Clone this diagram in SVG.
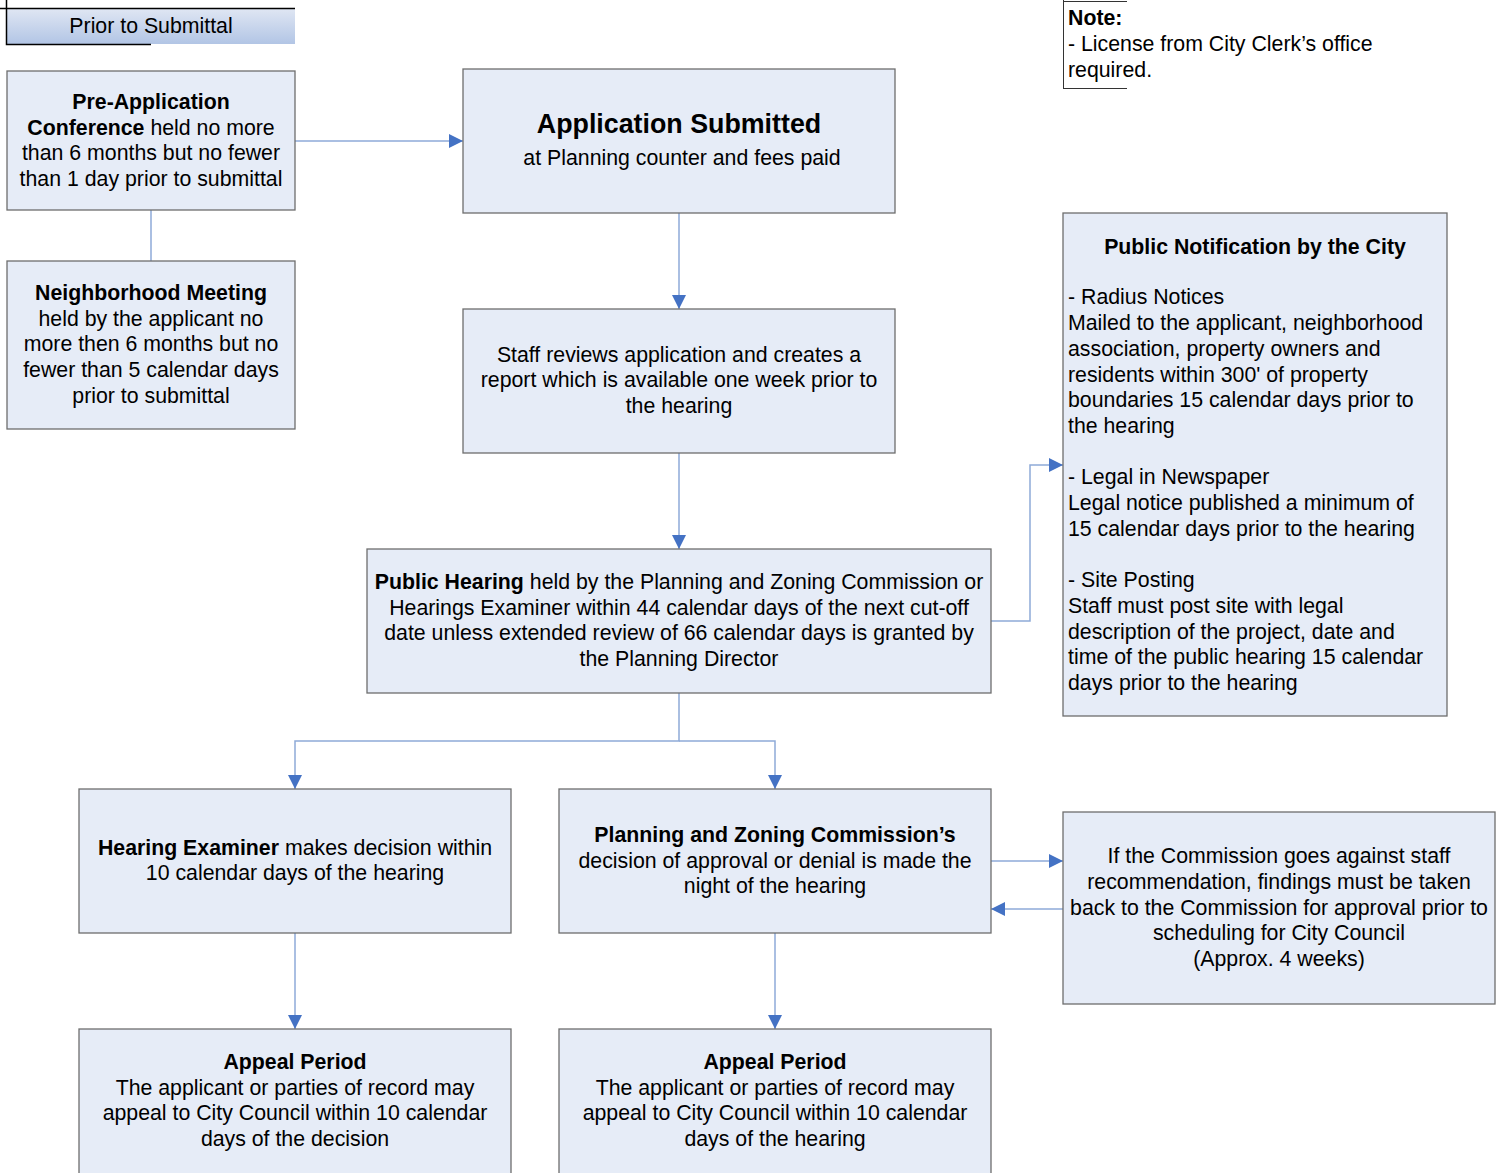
<svg xmlns="http://www.w3.org/2000/svg" width="1505" height="1173" viewBox="0 0 1505 1173">
<defs>
<linearGradient id="hdr" x1="0" y1="0" x2="0" y2="1">
<stop offset="0" stop-color="#dfe6f3"/>
<stop offset="1" stop-color="#b2c5e5"/>
</linearGradient>
<marker id="ah" viewBox="0 0 14 14" refX="14" refY="7" markerWidth="14" markerHeight="14" markerUnits="userSpaceOnUse" orient="auto">
<path d="M0,0 L14,7 L0,14 Z" fill="#4472c4"/>
</marker>
</defs>
<style>
.box{fill:#e6ecf7;stroke:#6e6e6e;stroke-width:1.3}
text{font-family:"Liberation Sans",Arial,sans-serif;font-size:21.3px;fill:#000}
.c{text-anchor:middle}
.b{font-weight:bold}
.con{fill:none;stroke:#8eaad8;stroke-width:1.5}
.arr{marker-end:url(#ah)}
.blk{stroke:#000;stroke-width:1.5;fill:none}
</style>
<rect width="1505" height="1173" fill="#fff"/>

<g id="header">
<rect x="7" y="9" width="288" height="35" fill="url(#hdr)"/>
<path class="blk" d="M0,8.5 H295 M6.5,0 V44.5 H151"/>
<text class="c" x="151" y="33">Prior to Submittal</text>
</g>

<g id="note">
<path d="M1063.5,0 V88.5 M1063,1.5 H1127 M1063,88.5 H1127" stroke="#333" stroke-width="1" fill="none"/>
<text x="1068" y="25" class="b">Note:</text>
<text x="1068" y="51">- License from City Clerk’s office</text>
<text x="1068" y="77">required.</text>
</g>

<g id="connectors">
<path class="con arr" d="M295,141 H463"/>
<path class="con" d="M151,210 V261"/>
<path class="con arr" d="M679,213 V309"/>
<path class="con arr" d="M679,453 V549"/>
<path class="con arr" d="M991,621 H1030 V465 H1063"/>
<path class="con arr" d="M679,693 V741 H295 V789"/>
<path class="con arr" d="M679,741 H775 V789"/>
<path class="con arr" d="M991,861 H1063"/>
<path class="con arr" d="M1063,909 H991"/>
<path class="con arr" d="M295,933 V1029"/>
<path class="con arr" d="M775,933 V1029"/>
</g>

<g id="preapp">
<rect class="box" x="7" y="71" width="288" height="139"/>
<text class="c b" x="151" y="109">Pre-Application</text>
<text class="c" x="151" y="135"><tspan class="b">Conference</tspan> held no more</text>
<text class="c" x="151" y="160">than 6 months but no fewer</text>
<text class="c" x="151" y="186">than 1 day prior to submittal</text>
</g>

<g id="neighborhood">
<rect class="box" x="7" y="261" width="288" height="168"/>
<text class="c b" x="151" y="300">Neighborhood Meeting</text>
<text class="c" x="151" y="326">held by the applicant no</text>
<text class="c" x="151" y="351">more then 6 months but no</text>
<text class="c" x="151" y="377">fewer than 5 calendar days</text>
<text class="c" x="151" y="403">prior to submittal</text>
</g>

<g id="appsubmitted">
<rect class="box" x="463" y="69" width="432" height="144"/>
<text class="c b" x="679" y="133" style="font-size:26.8px">Application Submitted</text>
<text class="c" x="682" y="165">at Planning counter and fees paid</text>
</g>

<g id="staff">
<rect class="box" x="463" y="309" width="432" height="144"/>
<text class="c" x="679" y="362">Staff reviews application and creates a</text>
<text class="c" x="679" y="387">report which is available one week prior to</text>
<text class="c" x="679" y="413">the hearing</text>
</g>

<g id="hearing">
<rect class="box" x="367" y="549" width="624" height="144"/>
<text class="c" x="679" y="589"><tspan class="b">Public Hearing</tspan> held by the Planning and Zoning Commission or</text>
<text class="c" x="679" y="615">Hearings Examiner within 44 calendar days of the next cut-off</text>
<text class="c" x="679" y="640">date unless extended review of 66 calendar days is granted by</text>
<text class="c" x="679" y="666">the Planning Director</text>
</g>

<g id="notification">
<rect class="box" x="1063" y="213" width="384" height="503"/>
<text class="c b" x="1255" y="254">Public Notification by the City</text>
<text x="1068" y="304">- Radius Notices</text>
<text x="1068" y="330">Mailed to the applicant, neighborhood</text>
<text x="1068" y="356">association, property owners and</text>
<text x="1068" y="382">residents within 300' of property</text>
<text x="1068" y="407">boundaries 15 calendar days prior to</text>
<text x="1068" y="433">the hearing</text>
<text x="1068" y="484">- Legal in Newspaper</text>
<text x="1068" y="510">Legal notice published a minimum of</text>
<text x="1068" y="536">15 calendar days prior to the hearing</text>
<text x="1068" y="587">- Site Posting</text>
<text x="1068" y="613">Staff must post site with legal</text>
<text x="1068" y="639">description of the project, date and</text>
<text x="1068" y="664">time of the public hearing 15 calendar</text>
<text x="1068" y="690">days prior to the hearing</text>
</g>

<g id="examiner">
<rect class="box" x="79" y="789" width="432" height="144"/>
<text class="c" x="295" y="855"><tspan class="b">Hearing Examiner</tspan> makes decision within</text>
<text class="c" x="295" y="880">10 calendar days of the hearing</text>
</g>

<g id="commission">
<rect class="box" x="559" y="789" width="432" height="144"/>
<text class="c b" x="775" y="842">Planning and Zoning Commission’s</text>
<text class="c" x="775" y="868">decision of approval or denial is made the</text>
<text class="c" x="775" y="893">night of the hearing</text>
</g>

<g id="against">
<rect class="box" x="1063" y="812" width="432" height="192"/>
<text class="c" x="1279" y="863">If the Commission goes against staff</text>
<text class="c" x="1279" y="889">recommendation, findings must be taken</text>
<text class="c" x="1279" y="915">back to the Commission for approval prior to</text>
<text class="c" x="1279" y="940">scheduling for City Council</text>
<text class="c" x="1279" y="966">(Approx. 4 weeks)</text>
</g>

<g id="appeal1">
<rect class="box" x="79" y="1029" width="432" height="150"/>
<text class="c b" x="295" y="1069">Appeal Period</text>
<text class="c" x="295" y="1095">The applicant or parties of record may</text>
<text class="c" x="295" y="1120">appeal to City Council within 10 calendar</text>
<text class="c" x="295" y="1146">days of the decision</text>
</g>

<g id="appeal2">
<rect class="box" x="559" y="1029" width="432" height="150"/>
<text class="c b" x="775" y="1069">Appeal Period</text>
<text class="c" x="775" y="1095">The applicant or parties of record may</text>
<text class="c" x="775" y="1120">appeal to City Council within 10 calendar</text>
<text class="c" x="775" y="1146">days of the hearing</text>
</g>
</svg>
